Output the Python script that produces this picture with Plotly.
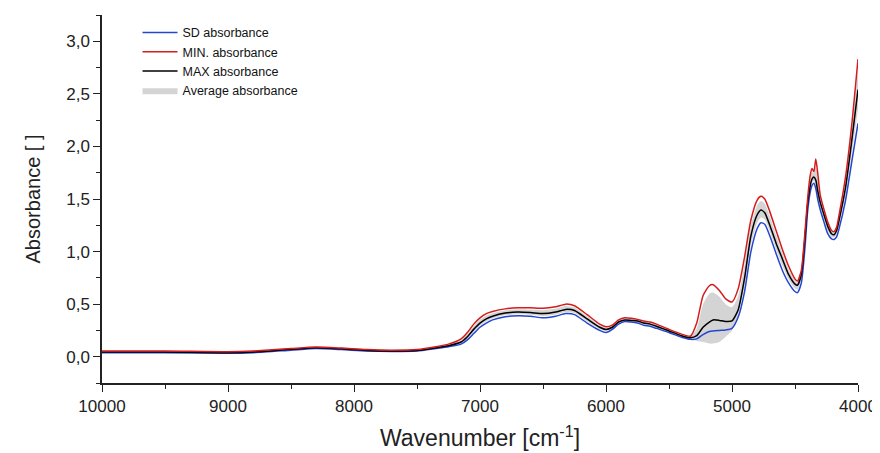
import plotly.graph_objects as go

wavenumber = [10000, 9500, 9000, 8800, 8500, 8300, 8100, 7900, 7700, 7500, 7350, 7250, 7150, 7100, 7050,
              7000, 6950, 6900, 6800, 6700, 6600, 6500, 6400, 6320, 6250, 6150, 6050, 6000, 5950, 5900,
              5850, 5800, 5750, 5700, 5650, 5600, 5500, 5400, 5330, 5280, 5230, 5180, 5150, 5100, 5050,
              5000, 4950, 4900, 4850, 4800, 4770, 4740, 4700, 4650, 4600, 4550, 4500, 4480, 4450, 4420,
              4400, 4380, 4365, 4350, 4335, 4320, 4300, 4270, 4240, 4210, 4190, 4170, 4150, 4100, 4050, 4000]

max_abs = [0.045, 0.045, 0.038, 0.045, 0.07, 0.085, 0.075, 0.06, 0.055, 0.06, 0.085, 0.105, 0.14, 0.19, 0.26,
           0.32, 0.36, 0.385, 0.415, 0.425, 0.42, 0.41, 0.425, 0.45, 0.44, 0.36, 0.28, 0.26, 0.28, 0.33,
           0.35, 0.345, 0.34, 0.32, 0.31, 0.29, 0.245, 0.2, 0.18, 0.2, 0.28, 0.33, 0.35, 0.345, 0.335,
           0.34, 0.45, 0.75, 1.15, 1.35, 1.395, 1.37, 1.25, 1.08, 0.93, 0.78, 0.69, 0.68, 0.78, 1.15,
           1.45, 1.62, 1.69, 1.71, 1.68, 1.58, 1.47, 1.35, 1.24, 1.17, 1.16, 1.2, 1.3, 1.6, 2.05, 2.54]

min_abs = [0.055, 0.055, 0.048, 0.055, 0.078, 0.092, 0.082, 0.068, 0.062, 0.068, 0.095, 0.12, 0.17, 0.23, 0.31,
           0.37, 0.41, 0.43, 0.455, 0.465, 0.465, 0.46, 0.475, 0.5, 0.485, 0.4, 0.31, 0.285, 0.3, 0.35,
           0.37, 0.365, 0.355, 0.34, 0.33, 0.31, 0.26, 0.215, 0.195, 0.32, 0.58, 0.675, 0.685, 0.63, 0.55,
           0.52, 0.65, 0.95, 1.3, 1.49, 1.525, 1.5, 1.38, 1.2, 1.02, 0.86, 0.74, 0.72, 0.82, 1.2,
           1.5, 1.72, 1.79, 1.76, 1.88, 1.75, 1.54, 1.4, 1.28, 1.2, 1.19, 1.23, 1.35, 1.7, 2.2, 2.83]

sd_abs = [0.038, 0.038, 0.032, 0.038, 0.062, 0.078, 0.068, 0.054, 0.05, 0.054, 0.078, 0.095, 0.12, 0.16, 0.22,
          0.28, 0.32, 0.35, 0.38, 0.39, 0.385, 0.37, 0.385, 0.41, 0.4, 0.32, 0.25, 0.23, 0.26, 0.31,
          0.335, 0.33, 0.32, 0.3, 0.29, 0.27, 0.23, 0.185, 0.165, 0.17, 0.21, 0.24, 0.245, 0.25, 0.255,
          0.27, 0.38, 0.62, 1.0, 1.22, 1.275, 1.26, 1.15, 0.98, 0.82, 0.7, 0.62, 0.61, 0.7, 1.05,
          1.38, 1.56, 1.63, 1.65, 1.6, 1.5, 1.4, 1.28, 1.17, 1.12, 1.115, 1.14, 1.22, 1.48, 1.85, 2.22]

avg_band_hi = [0.0515, 0.0515, 0.0445, 0.0515, 0.075, 0.090, 0.080, 0.065, 0.060, 0.065, 0.092, 0.115, 0.16, 0.216, 0.293,
               0.353, 0.393, 0.414, 0.441, 0.451, 0.449, 0.443, 0.458, 0.483, 0.469, 0.386, 0.30, 0.276, 0.293, 0.343,
               0.363, 0.358, 0.35, 0.333, 0.323, 0.303, 0.255, 0.21, 0.19, 0.27, 0.50, 0.60, 0.61, 0.57, 0.50,
               0.47, 0.58, 0.88, 1.248, 1.441, 1.48, 1.455, 1.335, 1.158, 0.989, 0.832, 0.723, 0.706, 0.806, 1.183,
               1.483, 1.685, 1.755, 1.743, 1.81, 1.69, 1.516, 1.383, 1.266, 1.19, 1.18, 1.22, 1.333, 1.665, 2.148, 2.73]

avg_band_lo = [0.041, 0.041, 0.034, 0.041, 0.065, 0.081, 0.071, 0.056, 0.052, 0.056, 0.081, 0.099, 0.128, 0.172, 0.236,
               0.296, 0.336, 0.364, 0.394, 0.404, 0.399, 0.386, 0.401, 0.426, 0.416, 0.336, 0.262, 0.242, 0.268, 0.318,
               0.341, 0.336, 0.328, 0.308, 0.298, 0.278, 0.236, 0.191, 0.165, 0.15, 0.14, 0.125, 0.125, 0.14, 0.19,
               0.25, 0.40, 0.672, 1.06, 1.272, 1.323, 1.304, 1.19, 1.02, 0.864, 0.732, 0.648, 0.638, 0.732, 1.09,
               1.408, 1.584, 1.654, 1.674, 1.632, 1.532, 1.428, 1.308, 1.198, 1.14, 1.133, 1.164, 1.252, 1.528, 1.93, 2.352]

x_tick_vals = [10000, 9000, 8000, 7000, 6000, 5000, 4000]
x_tick_text = ["10000", "9000", "8000", "7000", "6000", "5000", "4000"]
x_minor_vals = [9500, 8500, 7500, 6500, 5500, 4500]
y_tick_vals = [0.0, 0.5, 1.0, 1.5, 2.0, 2.5, 3.0]
y_tick_text = ["0,0", "0,5", "1,0", "1,5", "2,0", "2,5", "3,0"]
y_minor_vals = [-0.25, 0.25, 0.75, 1.25, 1.75, 2.25, 2.75, 3.25]

FONT = "Arial, Liberation Sans, sans-serif"

fig = go.Figure()
fig.add_trace(go.Scatter(x=wavenumber, y=avg_band_lo, mode="lines", line=dict(width=0, shape="spline", smoothing=0.6),
                         showlegend=False, hoverinfo="skip"))
fig.add_trace(go.Scatter(x=wavenumber, y=avg_band_hi, mode="lines", fill="tonexty",
                         fillcolor="rgba(205,205,205,0.85)", line=dict(width=0, color="#b0b0b0", shape="spline", smoothing=0.6),
                         name="Average absorbance", legendrank=4))
fig.add_trace(go.Scatter(x=wavenumber, y=sd_abs, mode="lines", name="SD absorbance",
                         line=dict(color="#2446d0", width=1.5, shape="spline", smoothing=0.6), legendrank=1))
fig.add_trace(go.Scatter(x=wavenumber, y=max_abs, mode="lines", name="MAX absorbance",
                         line=dict(color="#000000", width=1.5, shape="spline", smoothing=0.6), legendrank=3))
fig.add_trace(go.Scatter(x=wavenumber, y=min_abs, mode="lines", name="MIN. absorbance",
                         line=dict(color="#d41c1c", width=1.5, shape="spline", smoothing=0.6), legendrank=2))

fig.update_layout(
    width=872, height=445,
    margin=dict(l=94, r=22, t=7, b=70),
    paper_bgcolor="white", plot_bgcolor="white",
    font=dict(family=FONT, color="#222"),
    legend=dict(x=0.047, y=0.992, xanchor="left", yanchor="top", bgcolor="rgba(0,0,0,0)",
                traceorder="normal",
                font=dict(size=12.5, family=FONT, color="#111"), tracegroupgap=0, itemwidth=35),
    xaxis=dict(range=[10000, 4000], tickmode="array", tickvals=x_tick_vals, ticktext=x_tick_text,
               automargin=False, ticklabeloverflow="allow",
               ticks="outside", ticklen=7, tickwidth=1.3, tickcolor="#222",
               showline=True, linecolor="#222", linewidth=1.5, showgrid=False, zeroline=False,
               tickfont=dict(size=17, family=FONT, color="#222"),
               minor=dict(tickmode="array", tickvals=x_minor_vals, ticks="outside", ticklen=4, tickwidth=1.2, tickcolor="#222", showgrid=False),
               title=dict(text="Wavenumber [cm<sup>-1</sup>]", font=dict(size=23, family=FONT, color="#222"), standoff=15)),
    yaxis=dict(range=[-0.25, 3.25], tickmode="array", tickvals=y_tick_vals, ticktext=y_tick_text,
               automargin=False, ticklabeloverflow="allow",
               ticks="outside", ticklen=7, tickwidth=1.3, tickcolor="#222",
               showline=True, linecolor="#222", linewidth=1.5, showgrid=False, zeroline=False,
               tickfont=dict(size=17, family=FONT, color="#222"),
               minor=dict(tickmode="array", tickvals=y_minor_vals, ticks="outside", ticklen=4, tickwidth=1.2, tickcolor="#222", showgrid=False),
               title=dict(text="Absorbance [ ]", font=dict(size=20, family=FONT, color="#222"), standoff=20)),
)

fig.write_html("out.html")
